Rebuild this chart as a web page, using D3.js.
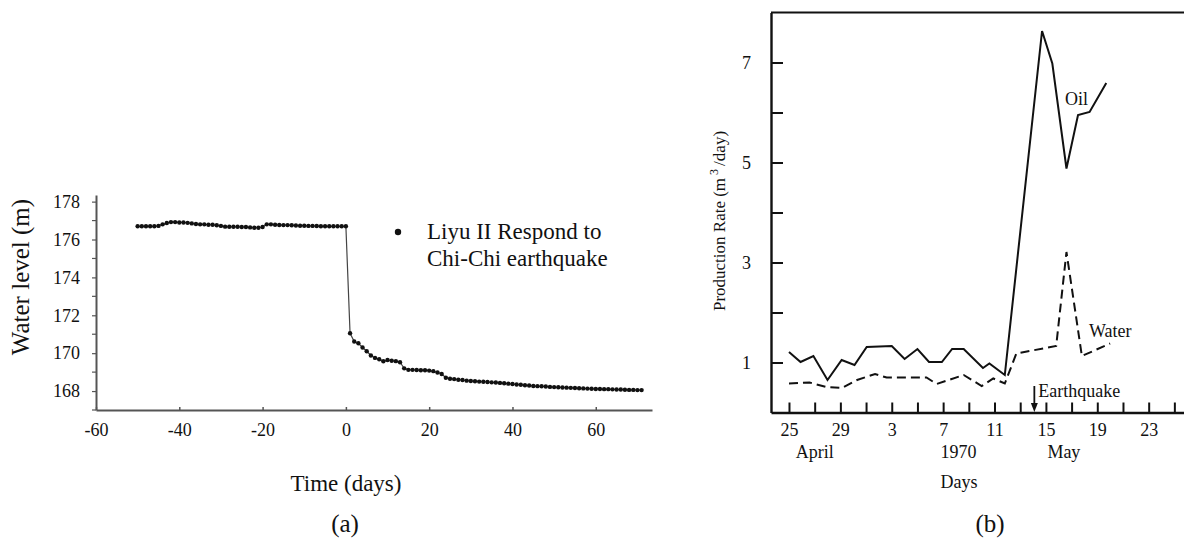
<!DOCTYPE html>
<html>
<head>
<meta charset="utf-8">
<script src="https://cdn.jsdelivr.net/npm/d3@7/dist/d3.min.js"></script>
<style>
  html, body { margin: 0; padding: 0; background: #fff; }
  svg { display: block; }
  svg text { font-family: "Liberation Serif", "Times New Roman", serif; }
</style>
</head>
<body>
<svg id="fig" width="1184" height="552"></svg>
<script>
// ---------- (a) Liyu II well, water level around the Chi-Chi earthquake ----------
const liyuDays = d3.range(-50, 72); // one reading per day
const liyuLevel = [
  176.70, 176.70, 176.70, 176.70, 176.70, 176.72, 176.80, 176.87, 176.92, 176.92,
  176.90, 176.90, 176.88, 176.85, 176.82, 176.80, 176.80, 176.78, 176.78, 176.75,
  176.72, 176.68, 176.67, 176.67, 176.67, 176.66, 176.66, 176.64, 176.62, 176.62,
  176.66, 176.80, 176.80, 176.78, 176.77, 176.76, 176.76, 176.75, 176.74, 176.73,
  176.73, 176.72, 176.72, 176.71, 176.70, 176.70, 176.70, 176.70, 176.70, 176.70,
  176.70,
  171.05, 170.62, 170.52, 170.30, 170.10, 169.88, 169.75, 169.68, 169.57, 169.64,
  169.60, 169.58, 169.52, 169.20, 169.12, 169.12, 169.11, 169.10, 169.10, 169.08,
  169.05, 168.98, 168.90, 168.70, 168.65, 168.63, 168.60, 168.58, 168.55, 168.53,
  168.52, 168.50, 168.49, 168.48, 168.46, 168.45, 168.43, 168.41, 168.39, 168.37,
  168.35, 168.33, 168.31, 168.29, 168.27, 168.26, 168.25, 168.24, 168.22, 168.21,
  168.20, 168.19, 168.18, 168.17, 168.16, 168.15, 168.14, 168.13, 168.12, 168.11,
  168.11, 168.10, 168.10, 168.09, 168.08, 168.08, 168.07, 168.06, 168.06, 168.05,
  168.05
];
const levelTicks = [168, 170, 172, 174, 176, 178];
const levelMinorTicks = [167, 169, 171, 173, 175, 177];
const timeTicks = [-60, -40, -20, 0, 20, 40, 60];
const legendLines = ["Liyu II Respond to", "Chi-Chi earthquake"];

// ---------- (b) production rates, April–May 1970 (days counted from 25 April) ----------
const oilDay  = [0, 0.9, 1.9, 3, 4.1, 5.1, 6.05, 8, 9, 10, 10.9, 11.9, 12.7, 13.6, 15.1, 15.6, 16.8, 19.7, 20.5, 21.6, 22.5, 23.4, 24.7];
const oilRate = [1.21, 1.01, 1.13, 0.65, 1.05, 0.95, 1.31, 1.33, 1.07, 1.27, 1.01, 1.01, 1.27, 1.27, 0.89, 0.98, 0.75, 7.63, 6.98, 4.88, 5.95, 6.01, 6.59];
const waterDay  = [0, 1.6, 2.9, 4.1, 5.3, 6.7, 7.6, 10.7, 11.5, 13.6, 15, 15.9, 16.8, 17.7, 20.8, 21.6, 22.8, 25];
const waterRate = [0.58, 0.60, 0.51, 0.49, 0.65, 0.77, 0.70, 0.70, 0.57, 0.75, 0.53, 0.68, 0.58, 1.18, 1.33, 3.21, 1.13, 1.38];
const rateTicks = [1, 2, 3, 4, 5, 6, 7];
const dayTicks = [0, 2, 4, 6, 8, 10, 12, 14, 16, 18, 20, 22, 24, 26, 28, 30];
const dayTickLabels = {0: "25", 4: "29", 8: "3", 12: "7", 16: "11", 20: "15", 24: "19", 28: "23"};
const quakeDay = 19.1; // 14 May 1970

const svg = d3.select("#fig");

// ================= panel (a) =================
{
  const x = d3.scaleLinear().domain([-60, 73.5]).range([96, 652]);
  const y = d3.scaleLinear().domain([167, 178.35]).range([410, 195]);
  const g = svg.append("g");
  const axisColor = "#555";

  // axes
  const xa = g.append("g").attr("transform", "translate(0,410)")
    .call(d3.axisBottom(x).tickValues(timeTicks).tickSizeInner(-3).tickSizeOuter(0).tickPadding(13));
  xa.select(".domain").attr("stroke", axisColor).attr("stroke-width", 2);
  xa.selectAll(".tick line").attr("stroke", axisColor).attr("stroke-width", 1.5);
  xa.selectAll(".tick text").attr("font-size", 18).attr("fill", "#111")
    .text(d => d < 0 ? "-" + Math.abs(d) : d);

  const ya = g.append("g").attr("transform", "translate(96,0)")
    .call(d3.axisLeft(y).tickValues(levelTicks).tickSizeInner(4).tickSizeOuter(0).tickPadding(12));
  ya.select(".domain").attr("stroke", axisColor).attr("stroke-width", 2);
  ya.selectAll(".tick line").attr("stroke", axisColor).attr("stroke-width", 1.2);
  ya.selectAll(".tick text").attr("font-size", 18).attr("fill", "#111");
  g.append("g").selectAll("line").data(levelMinorTicks).join("line")
    .attr("x1", 92).attr("x2", 96).attr("y1", d => y(d)).attr("y2", d => y(d))
    .attr("stroke", axisColor).attr("stroke-width", 1.2);

  // series
  const pts = liyuDays.map((d, i) => [d, liyuLevel[i]]);
  g.append("path").datum(pts)
    .attr("fill", "none").attr("stroke", "#444").attr("stroke-width", 1.2)
    .attr("d", d3.line().x(d => x(d[0])).y(d => y(d[1])));
  g.append("g").selectAll("circle").data(pts).join("circle")
    .attr("cx", d => x(d[0])).attr("cy", d => y(d[1])).attr("r", 2.2).attr("fill", "#111");

  // legend
  g.append("circle").attr("cx", 398).attr("cy", 232).attr("r", 3.2).attr("fill", "#111");
  g.append("text").attr("x", 427).attr("y", 239).attr("font-size", 23).attr("fill", "#111")
    .selectAll("tspan").data(legendLines).join("tspan")
    .attr("x", 427).attr("dy", (d, i) => i === 0 ? 0 : 27).text(d => d);

  // axis titles
  g.append("text").attr("transform", "translate(29,277) rotate(-90)")
    .attr("text-anchor", "middle").attr("font-size", 25).attr("fill", "#111").text("Water level (m)");
  g.append("text").attr("x", 346).attr("y", 491).attr("text-anchor", "middle")
    .attr("font-size", 23).attr("fill", "#111").text("Time (days)");
  g.append("text").attr("x", 345).attr("y", 532).attr("text-anchor", "middle")
    .attr("font-size", 25).attr("fill", "#111").text("(a)");
}

// ================= panel (b) =================
{
  const x = d3.scaleLinear().domain([-1.4, 30.75]).range([771, 1184]);
  const y = d3.scaleLinear().domain([0, 8]).range([412.5, 12.5]);
  const g = svg.append("g");

  // frame: top edge
  g.append("line").attr("x1", 771).attr("x2", 1184).attr("y1", y(8)).attr("y2", y(8))
    .attr("stroke", "#111").attr("stroke-width", 2);

  const xa = g.append("g").attr("transform", `translate(0,${y(0)})`)
    .call(d3.axisBottom(x).tickValues(dayTicks).tickSizeInner(-10).tickSizeOuter(0).tickPadding(11)
      .tickFormat(d => dayTickLabels[d] || ""));
  xa.select(".domain").attr("stroke", "#111").attr("stroke-width", 2.4);
  xa.selectAll(".tick line").attr("stroke", "#111").attr("stroke-width", 2);
  xa.selectAll(".tick text").attr("font-size", 18).attr("fill", "#111");

  const ya = g.append("g").attr("transform", "translate(771,0)")
    .call(d3.axisLeft(y).tickValues(rateTicks).tickSizeInner(-12).tickSizeOuter(0).tickPadding(20)
      .tickFormat(d => d % 2 === 1 ? d : ""));
  ya.select(".domain").attr("stroke", "#111").attr("stroke-width", 2.4);
  ya.selectAll(".tick line").attr("stroke", "#111").attr("stroke-width", 2);
  ya.selectAll(".tick text").attr("font-size", 18).attr("fill", "#111");

  // series
  const line = d3.line().x(d => x(d[0])).y(d => y(d[1]));
  g.append("path").datum(oilDay.map((d, i) => [d, oilRate[i]]))
    .attr("fill", "none").attr("stroke", "#111").attr("stroke-width", 2).attr("stroke-linejoin", "miter")
    .attr("d", line);
  g.append("path").datum(waterDay.map((d, i) => [d, waterRate[i]]))
    .attr("fill", "none").attr("stroke", "#111").attr("stroke-width", 2).attr("stroke-dasharray", "9,5")
    .attr("d", line);

  // labels
  g.append("text").attr("x", 1065).attr("y", 105).attr("font-size", 18).attr("fill", "#111").text("Oil");
  g.append("text").attr("x", 1089).attr("y", 337).attr("font-size", 18).attr("fill", "#111").text("Water");

  // earthquake marker
  const qx = x(quakeDay);
  g.append("line").attr("x1", qx).attr("x2", qx).attr("y1", 386).attr("y2", 406)
    .attr("stroke", "#111").attr("stroke-width", 1.8);
  g.append("path").attr("d", `M${qx - 3.5},${403} L${qx + 3.5},${403} L${qx},${412} Z`).attr("fill", "#111");
  g.append("text").attr("x", qx + 4).attr("y", 397).attr("font-size", 18).attr("fill", "#111").text("Earthquake");

  // month / year labels under the day ticks
  const under = [["April", 2], ["1970", 13.2], ["May", 21.4]];
  g.append("g").selectAll("text").data(under).join("text")
    .attr("x", d => x(d[1])).attr("y", 458).attr("text-anchor", "middle")
    .attr("font-size", 18).attr("fill", "#111").text(d => d[0]);

  // axis titles
  const yt = g.append("text").attr("transform", "translate(725,221) rotate(-90)")
    .attr("text-anchor", "middle").attr("font-size", 17).attr("fill", "#111");
  yt.append("tspan").text("Production Rate (m");
  yt.append("tspan").attr("dy", -7).attr("font-size", 12).text(" 3 ");
  yt.append("tspan").attr("dy", 7).text("/day)");
  g.append("text").attr("x", 959).attr("y", 488).attr("text-anchor", "middle")
    .attr("font-size", 18).attr("fill", "#111").text("Days");
  g.append("text").attr("x", 990).attr("y", 532).attr("text-anchor", "middle")
    .attr("font-size", 25).attr("fill", "#111").text("(b)");
}
</script>
</body>
</html>
